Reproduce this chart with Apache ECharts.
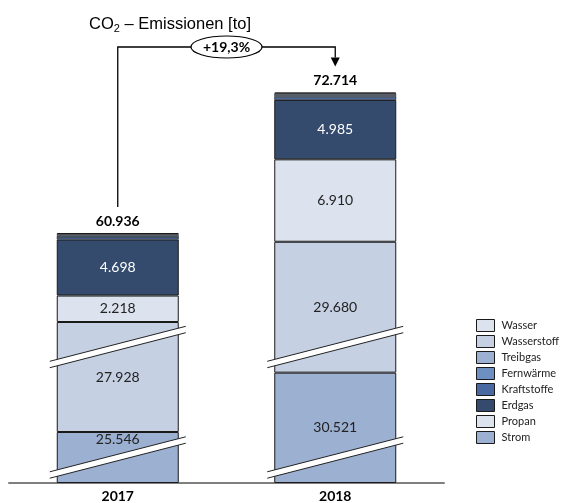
<!DOCTYPE html>
<html>
<head>
<meta charset="utf-8">
<script src="https://cdn.jsdelivr.net/npm/echarts@6/dist/echarts.min.js"></script>
<style>
  html, body { margin: 0; padding: 0; background: #fff; }
  #chart { width: 568px; height: 503px; }
</style>
</head>
<body>
<div id="chart"></div>
<script>
// Werte in Tonnen CO2
const years = ['2017', '2018'];
const strom = [25546, 30521];
const wasserstoff = [27928, 29680];
const propan = [2218, 6910];
const erdgas = [4698, 4985];
const kraftstoffe = [210, 250];
const fernwaerme = [120, 150];
const treibgas = [110, 120];
const wasser = [106, 98];

// Achsenunterbrechungen [start, end]
const axisBreaks = [[1887, 23658], [32421, 51628]];
const BREAK_GAP = 500;

const legendOrder = ['Wasser', 'Wasserstoff', 'Treibgas', 'Fernwärme', 'Kraftstoffe', 'Erdgas', 'Propan', 'Strom'];

const BAR_WIDTH = 122;
const FONT = 'Lato, "Open Sans", sans-serif';
const TITLE_FONT = '"Liberation Sans", Arial, sans-serif';

const fmt = v => String(v).replace(/\B(?=(\d{3})+(?!\d))/g, '.');

const layers = [
    { name: 'Strom', data: strom, color: '#9cb0d1', label: true },
    { name: 'Wasserstoff', data: wasserstoff, color: '#c5d0e3', label: true },
    { name: 'Propan', data: propan, color: '#dce3ee', label: true },
    { name: 'Erdgas', data: erdgas, color: '#344b6e', label: true, textColor: '#fff' },
    { name: 'Kraftstoffe', data: kraftstoffe, color: '#4a69a0' },
    { name: 'Fernwärme', data: fernwaerme, color: '#6d8fc1' },
    { name: 'Treibgas', data: treibgas, color: '#9cb0d1' },
    { name: 'Wasser', data: wasser, color: '#dce3ee' }
];

const totals = years.map((_, i) => layers.reduce((s, l) => s + l.data[i], 0));
const change = ((totals[1] / totals[0] - 1) * 100).toFixed(1).replace('.', ',');

const chart = echarts.init(document.getElementById('chart'));

const barSeries = layers.map((l, idx) => {
    const isTop = idx === layers.length - 1;
    return {
        name: l.name,
        type: 'bar',
        stack: 'co2',
        barWidth: BAR_WIDTH,
        itemStyle: { color: l.color, borderColor: '#1a1a1a', borderWidth: l.label || isTop ? 1 : 0.6 },
        label: isTop ? {
            show: true,
            position: 'top',
            distance: 5,
            formatter: p => fmt(totals[p.dataIndex]),
            fontFamily: FONT, fontSize: 14, fontWeight: 'bold', color: '#000'
        } : {
            show: !!l.label,
            position: 'inside',
            formatter: p => fmt(p.value),
            fontFamily: FONT, fontSize: 14, color: l.textColor || '#222'
        },
        // 2017 Strom: Beschriftung oberhalb der Unterbrechung
        data: l.data.map((v, i) => (idx === 0 && i === 0)
            ? { value: v, label: { position: 'insideTop', distance: 0 } }
            : v),
        z: 2
    };
});

// Unterbrechungszeichen, schräg über jedem Balken
const breakData = [];
years.forEach((_, i) => axisBreaks.forEach(b => breakData.push([i, b[0], b[1]])));

function renderBreak(params, api) {
    const lo = api.coord([api.value(0), api.value(1)]);
    const hi = api.coord([api.value(0), api.value(2)]);
    const cx = lo[0];
    const cy = (lo[1] + hi[1]) / 2;
    const half = BAR_WIDTH / 2 + 7;
    const rise = 17.5;
    const t = 3.2;
    const x0 = cx - half, x1 = cx + half;
    const yL = cy + rise, yR = cy - rise;
    return {
        type: 'group',
        children: [
            { type: 'polygon', shape: { points: [[x0, yL - t], [x1, yR - t], [x1, yR + t], [x0, yL + t]] }, style: { fill: '#fff' } },
            { type: 'line', shape: { x1: x0, y1: yL - t, x2: x1, y2: yR - t }, style: { stroke: '#222', lineWidth: 1 } },
            { type: 'line', shape: { x1: x0, y1: yL + t, x2: x1, y2: yR + t }, style: { stroke: '#222', lineWidth: 1 } }
        ]
    };
}

// Verbindungslinie mit Veränderung
function renderConnector(params, api) {
    const a = api.coord([0, totals[0]]);
    const b = api.coord([1, totals[1]]);
    const topY = 47;
    const yA = a[1] - 26;
    const yB = b[1] - 26;
    const mx = (a[0] + b[0]) / 2;
    return {
        type: 'group',
        children: [
            { type: 'polyline', shape: { points: [[a[0], yA], [a[0], topY], [b[0], topY], [b[0], yB - 9]] }, style: { stroke: '#000', lineWidth: 1.3, fill: 'none' } },
            { type: 'polygon', shape: { points: [[b[0] - 4.5, yB - 9], [b[0] + 4.5, yB - 9], [b[0], yB]] }, style: { fill: '#000' } },
            { type: 'ellipse', shape: { cx: mx, cy: topY, rx: 35.5, ry: 11 }, style: { fill: '#fff', stroke: '#000', lineWidth: 1.2 } },
            { type: 'text', x: mx, y: topY, style: { text: '+' + change + '%', font: 'bold 14px Lato, sans-serif', fill: '#000', align: 'center', verticalAlign: 'middle' } }
        ]
    };
}

const option = {
    animation: false,
    backgroundColor: '#fff',
    title: {
        text: '{a|CO}{s|2}{a| – Emissionen [to]}',
        left: 84,
        top: 9,
        textStyle: {
            rich: {
                a: { fontFamily: TITLE_FONT, fontSize: 16.5, fontWeight: 'normal', lineHeight: 20, color: '#000' },
                s: { fontFamily: TITLE_FONT, fontSize: 11, fontWeight: 'normal', lineHeight: 10, verticalAlign: 'bottom', color: '#000' }
            }
        }
    },
    legend: {
        data: legendOrder,
        orient: 'vertical',
        left: 471,
        top: 314,
        itemWidth: 18,
        itemHeight: 12,
        itemGap: 3,
        icon: 'rect',
        selectedMode: false,
        itemStyle: { borderWidth: 1, borderColor: '#1a1a1a' },
        textStyle: { fontFamily: FONT, fontSize: 11, lineHeight: 12, color: '#222', padding: [0, 0, 0, 2] }
    },
    grid: { left: 9, right: 124, top: 92.5, bottom: 20, containLabel: false, outerBoundsMode: 'none' },
    xAxis: {
        type: 'category',
        data: years,
        axisTick: { show: false },
        axisLine: { lineStyle: { color: '#7f7f7f', width: 2 } },
        axisLabel: { margin: 6, fontFamily: FONT, fontSize: 14, fontWeight: 'bold', color: '#000' }
    },
    yAxis: {
        type: 'value',
        min: 0,
        max: totals[1],
        show: false,
        splitLine: { show: false },
        breaks: axisBreaks.map(b => ({ start: b[0], end: b[1], gap: BREAK_GAP })),
        breakArea: { show: false }
    },
    series: barSeries.concat([
        {
            type: 'custom',
            name: 'breaks',
            renderItem: renderBreak,
            data: breakData,
            encode: { x: 0, y: [1, 2] },
            clip: false,
            silent: true,
            z: 5
        },
        {
            type: 'custom',
            name: 'connector',
            renderItem: renderConnector,
            data: [[0, 0]],
            encode: { x: 0, y: 1 },
            clip: false,
            silent: true,
            z: 5
        }
    ])
};

chart.setOption(option);
window.addEventListener('resize', () => chart.resize());
</script>
</body>
</html>
